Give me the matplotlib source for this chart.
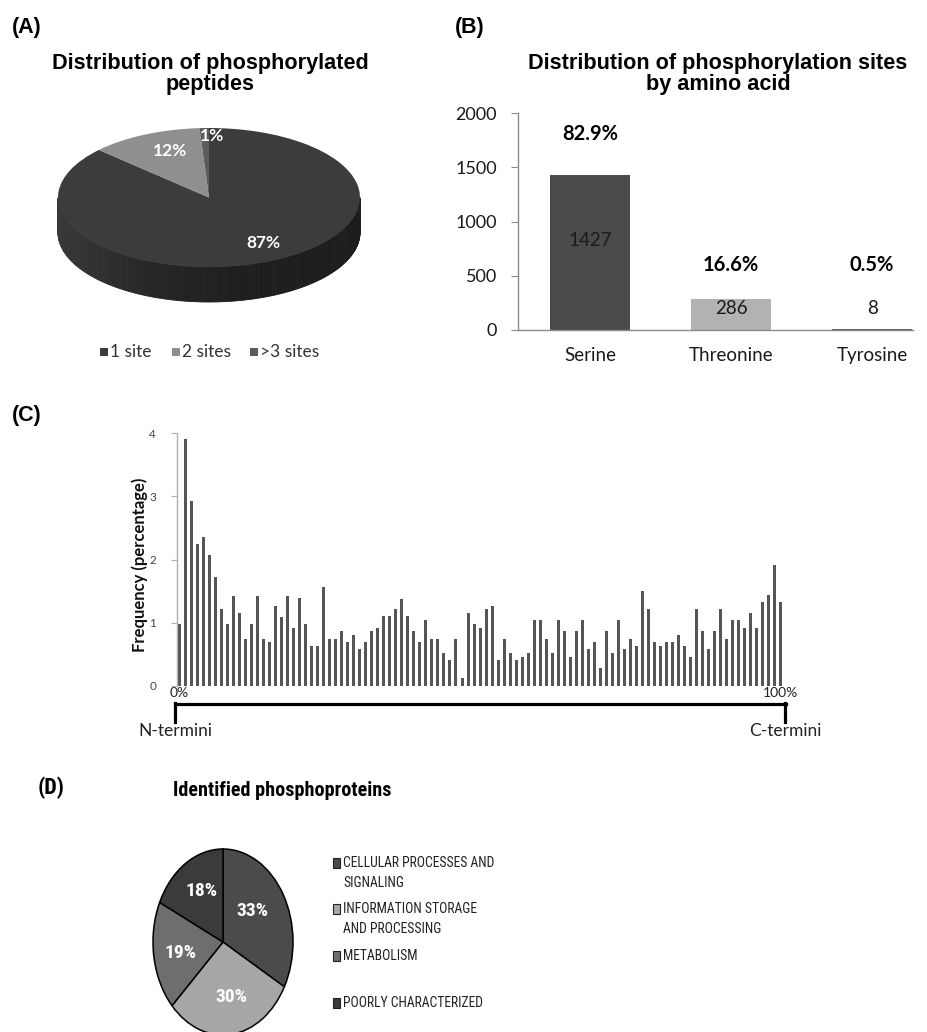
import matplotlib
matplotlib.use("Agg")
import matplotlib.pyplot as plt
import numpy as np
from matplotlib.patches import Rectangle, Polygon
from matplotlib.lines import Line2D
from matplotlib import font_manager

# ---------------------------------------------------------------- data
peptide_labels = ['1 site', '2 sites', '>3 sites']
peptide_pct = [87, 12, 1]

residues = ['Serine', 'Threonine', 'Tyrosine']
residue_counts = [1427, 286, 8]
residue_pct = [82.9, 16.6, 0.5]

# relative position of the phosphosite along the protein (0% .. 100%)
position_freq = [
    0.98, 3.91, 2.93, 2.25, 2.35, 2.07, 1.73, 1.22, 0.98, 1.43,
    1.15, 0.75, 0.98, 1.43, 0.75, 0.70, 1.27, 1.09, 1.43, 0.92,
    1.39, 0.98, 0.64, 0.64, 1.56, 0.75, 0.75, 0.87, 0.70, 0.81,
    0.58, 0.70, 0.87, 0.92, 1.10, 1.10, 1.21, 1.38, 1.10, 0.87,
    0.70, 1.04, 0.75, 0.75, 0.52, 0.41, 0.75, 0.12, 1.15, 0.98,
    0.92, 1.21, 1.27, 0.41, 0.75, 0.52, 0.41, 0.46, 0.52, 1.04,
    1.04, 0.75, 0.52, 1.04, 0.87, 0.46, 0.87, 1.04, 0.58, 0.70,
    0.29, 0.87, 0.52, 1.04, 0.58, 0.75, 0.64, 1.50, 1.21, 0.70,
    0.64, 0.70, 0.70, 0.81, 0.64, 0.46, 1.21, 0.87, 0.58, 0.87,
    1.21, 0.75, 1.04, 1.04, 0.92, 1.16, 0.92, 1.33, 1.44, 1.91,
    1.33,
]
position_ticks = ['0%', '100%']

cog_labels = ['CELLULAR PROCESSES AND\nSIGNALING',
              'INFORMATION STORAGE\nAND PROCESSING',
              'METABOLISM',
              'POORLY CHARACTERIZED']
cog_pct = [33, 30, 19, 18]

# ---------------------------------------------------------------- setup
W, H = 928, 1032
fig = plt.figure(figsize=(W / 100, H / 100), dpi=100)
fig.patch.set_facecolor('white')

installed = {f.name for f in font_manager.fontManager.ttflist}


def pick(*names):
    for n in names:
        if n in installed:
            return n
    return names[-1]


HEAD = 'Liberation Sans'
BODY = 'Lato'
HEAD_NARROW = pick('Liberation Sans Narrow', 'Arial Narrow', 'Roboto Condensed',
                   'Sofia Sans Semi Condensed', 'Liberation Sans')
BODY_NARROW = pick('Roboto Condensed', 'Open Sans Condensed',
                   'Sofia Sans Semi Condensed', 'Lato')


def fx(x):
    return x / W


def fy(y):
    return 1 - y / H


def box(x0, y0, x1, y1):
    return [fx(x0), fy(y1), (x1 - x0) / W, (y1 - y0) / H]


def ftext(x, y, s, **kw):
    fig.text(fx(x), fy(y), s, **kw)


# panel letters
for letter, (lx, ly) in {'(A)': (27, 27), '(B)': (470, 27), '(C)': (27, 415)}.items():
    ftext(lx, ly, letter, family=HEAD, weight='bold', size=15.5,
          ha='center', va='center', color='black')
ftext(51, 788, '(D)', family=HEAD_NARROW, weight='bold', size=16,
      ha='center', va='center', color='black')

# ---------------------------------------------------------------- (A) 3-D pie
ftext(210, 74, 'Distribution of phosphorylated\npeptides', family=HEAD,
      weight='bold', size=15.6, ha='center', va='center', linespacing=1.05)

pie_cols_a = ['#3c3c3c', '#8f8f8f', '#5c5c5c']
cx, cy, rx, ry = 209, 197.5, 151, 69.5
ax0, ay0, ax1, ay1 = 40, 105, 380, 320
axA = fig.add_axes(box(ax0, ay0, ax1, ay1))
depth = 35 / ry

# side wall of the disc, shaded from left to right
t = np.linspace(np.pi, 2 * np.pi, 181)
for a, b in zip(t[:-1], t[1:]):
    mid = 0.5 * (a + b)
    shade = 0.115 + 0.11 * ((1 - np.cos(mid)) / 2) ** 3
    xs = [np.cos(a), np.cos(b), np.cos(b), np.cos(a)]
    ys = [np.sin(a), np.sin(b), np.sin(b) - depth, np.sin(a) - depth]
    axA.add_patch(Polygon(np.column_stack([xs, ys]), closed=True,
                          facecolor=str(shade), edgecolor=str(shade),
                          linewidth=0.6))

axA.pie(peptide_pct, colors=pie_cols_a, startangle=90, counterclock=False,
        radius=1, center=(0, 0), wedgeprops=dict(linewidth=0))
axA.set_aspect('auto')
axA.set_xlim((ax0 - cx) / rx, (ax1 - cx) / rx)
axA.set_ylim((cy - ay1) / ry, (cy - ay0) / ry)
axA.axis('off')

for val, (px, py) in zip(peptide_pct, [(263, 243), (170, 151), (212, 136)]):
    axA.text((px - cx) / rx, (cy - py) / ry, f'{val}%', color='white',
             family=BODY, weight='bold', size=12.5, ha='center', va='center')

# legend
leg_x = [100, 172, 250]
for lab, col, lx in zip(peptide_labels, pie_cols_a, leg_x):
    fig.add_artist(Rectangle((fx(lx), fy(356)), 8 / W, 8 / H,
                             transform=fig.transFigure, facecolor=col,
                             edgecolor='none'))
    ftext(lx + 10, 352, lab, family=BODY, size=12.5, color='#333333',
          ha='left', va='center')

# ---------------------------------------------------------------- (B) bars
ftext(718, 74, 'Distribution of phosphorylation sites\nby amino acid',
      family=HEAD, weight='bold', size=15.6, ha='center', va='center',
      linespacing=1.05)

axB = fig.add_axes(box(518, 113, 913, 330))
xb = np.arange(len(residues))
axB.bar(xb, residue_counts, width=0.57,
        color=['#4a4a4a', '#b2b2b2', '#5a5a5a'], linewidth=0)
axB.set_xlim(-0.51, 2.29)
axB.set_ylim(0, 2000)
axB.set_yticks([0, 500, 1000, 1500, 2000])
axB.set_xticks(xb)
axB.set_xticklabels(residues)
for sp in ('top', 'right'):
    axB.spines[sp].set_visible(False)
for sp in ('left', 'bottom'):
    axB.spines[sp].set_color('#8a8a8a')
    axB.spines[sp].set_linewidth(1.0)
axB.tick_params(axis='y', length=5, color='#8a8a8a', pad=10, labelsize=13,
                labelcolor='#1a1a1a')
axB.tick_params(axis='x', length=0, pad=12, labelsize=13.5,
                labelcolor='#1a1a1a')
for lab in axB.get_xticklabels() + axB.get_yticklabels():
    lab.set_family(BODY)

pct_y = [1806, 600, 600]
cnt_y = [829, 194, 194]
for xi, cnt, pct, py, cyy in zip(xb, residue_counts, residue_pct, pct_y, cnt_y):
    axB.text(xi, py, f'{pct}%', family=BODY, weight='bold', size=14.5,
             ha='center', va='center', color='black')
    axB.text(xi, cyy, f'{cnt}', family=BODY, size=13.5,
             ha='center', va='center', color='#1a1a1a')

# ---------------------------------------------------------------- (C) position
axC = fig.add_axes(box(177, 433, 787, 686))
xc = np.arange(len(position_freq))
axC.bar(xc, position_freq, width=0.5, color='#555555', linewidth=0)
axC.set_xlim(-0.4, 101.05)
axC.set_ylim(0, 4)
axC.set_yticks([0, 1, 2, 3, 4])
axC.set_xticks([0, 100])
axC.set_xticklabels(position_ticks)
for sp in ('top', 'right', 'bottom'):
    axC.spines[sp].set_visible(False)
axC.spines['left'].set_color('#b0b0b0')
axC.spines['left'].set_linewidth(1.0)
axC.tick_params(axis='y', length=4, color='#b0b0b0', pad=11, labelsize=8.5,
                labelcolor='#444444')
axC.tick_params(axis='x', length=0, pad=0.5, labelsize=10,
                labelcolor='#222222')
for lab in axC.get_xticklabels() + axC.get_yticklabels():
    lab.set_family(BODY)

ftext(140, 565, 'Frequency (percentage)', family=BODY, weight='bold',
      size=12, rotation=90, ha='center', va='center', color='#111111')

# N- to C-terminus bracket
for (x0, y0), (x1, y1) in [((175, 704), (786, 704)),
                           ((175, 703), (175, 722)),
                           ((785, 703), (785, 722))]:
    fig.add_artist(Line2D([fx(x0), fx(x1)], [fy(y0), fy(y1)],
                          transform=fig.transFigure, color='black',
                          linewidth=2.3, solid_capstyle='projecting'))
ftext(175, 731, 'N-termini', family=BODY, size=12.5, ha='center', va='center',
      color='#222222')
ftext(785, 731, 'C-termini', family=BODY, size=12.5, ha='center', va='center',
      color='#222222')

# ---------------------------------------------------------------- (D) pie
ftext(282, 790, 'Identified phosphoproteins', family=HEAD_NARROW, weight='bold',
      size=14.5, ha='center', va='center')

pie_cols_d = ['#4b4b4b', '#a6a6a6', '#6e6e6e', '#3b3b3b']
dcx, dcy, drx, dry = 223, 942, 70, 93
dx0, dy0, dx1, dy1 = 140, 840, 310, 1032
axD = fig.add_axes(box(dx0, dy0, dx1, dy1))
axD.pie(cog_pct, colors=pie_cols_d, startangle=90, counterclock=False,
        radius=1, center=(0, 0),
        wedgeprops=dict(edgecolor='black', linewidth=1.1))
axD.set_aspect('auto')
axD.set_xlim((dx0 - dcx) / drx, (dx1 - dcx) / drx)
axD.set_ylim((dcy - dy1) / dry, (dcy - dy0) / dry)
axD.axis('off')
for val, (px, py) in zip(cog_pct, [(252, 911), (231, 997), (181, 953), (202, 891)]):
    axD.text((px - dcx) / drx, (dcy - py) / dry, f'{val}%', color='white',
             family=BODY_NARROW, weight='bold', size=14, ha='center',
             va='center')

leg_y = [863, 909, 956, 1003]
for lab, col, ly in zip(cog_labels, pie_cols_d, leg_y):
    fig.add_artist(Rectangle((fx(333), fy(ly + 5)), 7 / W, 10 / H,
                             transform=fig.transFigure, facecolor=col,
                             edgecolor='#222222', linewidth=0.8))
    ftext(343, ly - 7, lab, family=BODY_NARROW, size=9.8, color='#222222',
          ha='left', va='top', linespacing=1.55)

fig.savefig('out.png', dpi=100, facecolor='white')
